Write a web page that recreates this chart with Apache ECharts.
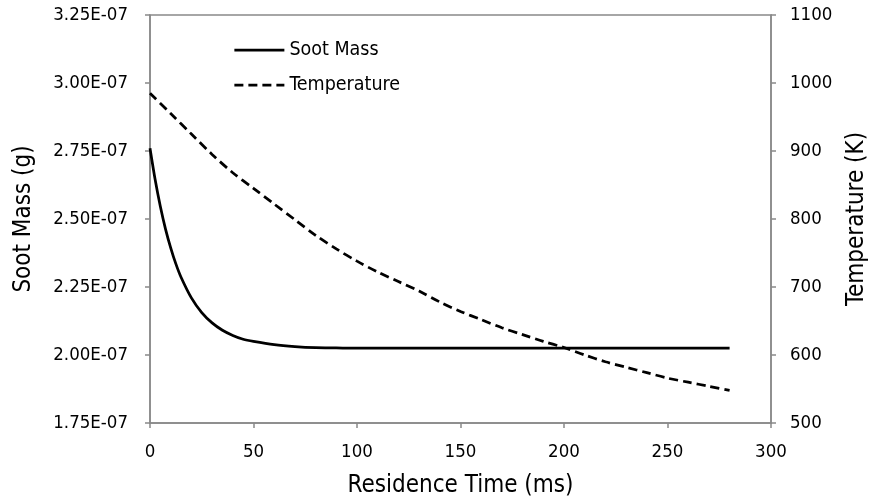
<!DOCTYPE html>
<html>
<head>
<meta charset="utf-8">
<script src="https://cdn.jsdelivr.net/npm/echarts@6/dist/echarts.min.js"></script>
<style>
  html, body { margin: 0; padding: 0; background: #fff; }
  #chart { width: 871px; height: 498px; }
</style>
</head>
<body>
<div id="chart"></div>
<script>
// residence time (ms) and soot mass (g)
var sootTime = [0, 2.5, 5, 7.5, 10, 12.5, 15, 20, 25, 30, 35, 40, 45, 50, 60, 70, 80, 90, 100, 150, 200, 250, 280];
var sootMass = [2.760e-7, 2.644e-7, 2.546e-7, 2.463e-7, 2.394e-7, 2.335e-7, 2.286e-7, 2.210e-7, 2.156e-7,
  2.118e-7, 2.091e-7, 2.072e-7, 2.058e-7, 2.050e-7, 2.038e-7, 2.031e-7, 2.027e-7, 2.026e-7, 2.025e-7,
  2.025e-7, 2.025e-7, 2.025e-7, 2.025e-7];

// residence time (ms) and temperature (K)
var tempTime = [0, 10, 20, 30, 40, 50, 60, 70, 80, 90, 100, 110, 120, 130, 140, 150, 160, 170, 180, 190,
  200, 210, 220, 230, 240, 250, 260, 270, 280];
var temperature = [985, 955, 925, 895, 868, 845, 822, 799, 776, 756, 738, 722, 708, 694, 678, 664, 652,
  640, 630, 620, 611, 600, 590, 582, 574, 566, 560, 554, 548];

var FONT = '"DejaVu Sans Condensed", "DejaVu Sans", sans-serif';
var AXIS_GREY = '#898989';

function zip(xs, ys) {
  return xs.map(function (x, i) { return [x, ys[i]]; });
}

// 2.75e-7 -> "2.75E-07"
function sciLabel(v) {
  var s = v.toExponential(2).toUpperCase();
  var parts = s.split('E');
  var exp = parseInt(parts[1], 10);
  var sign = exp < 0 ? '-' : '+';
  var abs = Math.abs(exp);
  return parts[0] + 'E' + sign + (abs < 10 ? '0' + abs : abs);
}

function plainLabel(v) {
  return String(v);
}

var chart = echarts.init(document.getElementById('chart'));

var axisLine = { show: true, lineStyle: { color: AXIS_GREY, width: 1.5 } };
var axisTick = { show: true, length: 5, lineStyle: { color: AXIS_GREY, width: 1.5 } };
var labelStyle = { color: '#000', fontFamily: FONT, fontSize: 18.5 };
var nameStyle = { color: '#000', fontFamily: FONT, fontSize: 24 };

chart.setOption({
  animation: false,
  grid: {
    left: 150, right: 100, top: 15, bottom: 75,
    outerBoundsMode: 'none',
    containLabel: false,
    show: true, borderColor: AXIS_GREY, borderWidth: 1.5, backgroundColor: 'transparent'
  },
  legend: {
    orient: 'vertical',
    left: 228,
    top: 35,
    itemWidth: 50,
    itemHeight: 14,
    itemGap: 15,
    itemStyle: { opacity: 0 },
    lineStyle: { width: 2.75 },
    textStyle: { color: '#000', fontFamily: FONT, fontSize: 19.5 },
    data: ['Soot Mass', 'Temperature']
  },
  xAxis: {
    type: 'value',
    min: 0, max: 300, interval: 50,
    name: 'Residence Time (ms)',
    nameLocation: 'middle',
    nameGap: 51,
    nameTextStyle: nameStyle,
    axisLine: axisLine,
    axisTick: axisTick,
    axisLabel: Object.assign({ margin: 20, formatter: plainLabel }, labelStyle),
    splitLine: { show: false }
  },
  yAxis: [{
    type: 'value',
    min: 1.75e-7, max: 3.25e-7, interval: 0.25e-7,
    name: 'Soot Mass (g)',
    nameLocation: 'middle',
    nameGap: 114,
    nameTextStyle: nameStyle,
    axisLine: axisLine,
    axisTick: axisTick,
    axisLabel: Object.assign({ margin: 22, formatter: sciLabel }, labelStyle),
    splitLine: { show: false }
  }, {
    type: 'value',
    min: 500, max: 1100, interval: 100,
    name: 'Temperature (K)',
    nameLocation: 'middle',
    nameGap: 74,
    nameTextStyle: nameStyle,
    position: 'right',
    axisLine: axisLine,
    axisTick: axisTick,
    axisLabel: Object.assign({ margin: 19, formatter: plainLabel }, labelStyle),
    splitLine: { show: false }
  }],
  series: [{
    name: 'Soot Mass',
    type: 'line',
    yAxisIndex: 0,
    smooth: 0.3,
    symbol: 'none',
    data: zip(sootTime, sootMass),
    lineStyle: { color: '#000', width: 2.75 },
    itemStyle: { color: '#000' }
  }, {
    name: 'Temperature',
    type: 'line',
    yAxisIndex: 1,
    smooth: 0.3,
    symbol: 'none',
    data: zip(tempTime, temperature),
    lineStyle: { color: '#000', width: 2.75, type: [9, 5] },
    itemStyle: { color: '#000' }
  }]
});
</script>
</body>
</html>
